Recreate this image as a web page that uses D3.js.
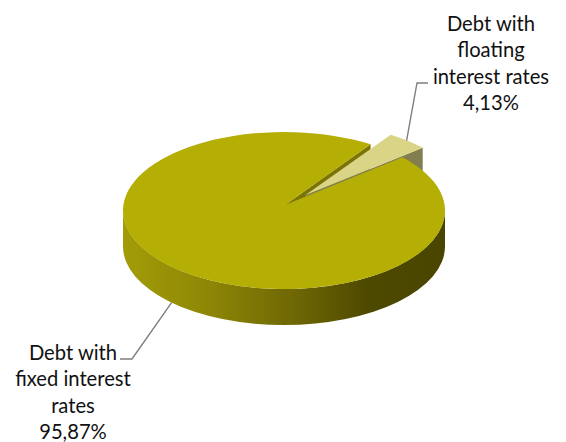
<!DOCTYPE html>
<html>
<head>
<meta charset="utf-8">
<script src="https://cdn.jsdelivr.net/npm/d3@7"></script>
<style>
  html, body { margin: 0; padding: 0; background: #fff; }
  svg { display: block; }
  text { font-family: Lato, "Open Sans", sans-serif; font-size: 20.2px; fill: #111; }
</style>
</head>
<body>
<div id="chart"></div>
<script>
// Data
const categories = ['Debt with fixed interest rates', 'Debt with floating interest rates'];
const shares = [95.87, 4.13];
const shareLabels = ['95,87%', '4,13%'];
const labelLines = [
    ['Debt with', 'fixed interest', 'rates'],
    ['Debt with', 'floating', 'interest rates']
];

const width = 566, height = 442;

// 3D look of the pie: ellipse, its apex sits a little above the ellipse centre
const cx = 284, cy = 210.5, rx = 161, ry = 78.5, depth = 36;
const apex = {x: 285, y: 205};
const explodeX = 0.195, explodeY = 0.16;

const colors = {
    top: '#b5ae04',
    notchWall: '#7b7404',
    wedgeTop: '#dad486',
    wedgeWall: '#827e50',
    leader: '#7f7f7f'
};

const svg = d3.select('#chart').append('svg')
    .attr('width', width)
    .attr('height', height);

// Side wall shading runs from lit left to dark right
const grad = svg.append('defs').append('linearGradient')
    .attr('id', 'wall')
    .attr('gradientUnits', 'userSpaceOnUse')
    .attr('x1', cx - rx).attr('x2', cx + rx)
    .attr('y1', 0).attr('y2', 0);
[[0, '#a39c08'], [0.25, '#8f8806'], [0.55, '#6c6504'], [0.75, '#4f4a01'], [1, '#494500']]
    .forEach(s => grad.append('stop').attr('offset', s[0]).attr('stop-color', s[1]));

const pie = d3.pie().sort(null)
    .startAngle(47.4 * Math.PI / 180)
    .endAngle((47.4 + 360) * Math.PI / 180);
const arcs = pie(shares);
const fixedArc = arcs[0], floatArc = arcs[1];

// pie angle (clockwise from 12 o'clock) to screen position on the rim
const rim = (a, dx = 0, dy = 0) => ({
    x: cx + rx * Math.sin(a) + dx,
    y: cy - ry * Math.cos(a) + dy
});

function slicePath(d, dx = 0, dy = 0) {
    const s = rim(d.startAngle, dx, dy), e = rim(d.endAngle, dx, dy);
    const large = d.endAngle - d.startAngle > Math.PI ? 1 : 0;
    return `M${apex.x + dx},${apex.y + dy}L${s.x},${s.y}` +
        `A${rx},${ry} 0 ${large} 1 ${e.x},${e.y}Z`;
}

const quad = pts => 'M' + pts.map(p => `${p.x},${p.y}`).join('L') + 'Z';

// Offset of the pulled-out slice, along its bisector
const mid = (floatArc.startAngle + floatArc.endAngle) / 2;
const off = {
    x: rx * Math.sin(mid) * explodeX,
    y: -ry * Math.cos(mid) * explodeY
};

// Outer wall of the big slice (front half only is visible)
const left = rim(-Math.PI / 2 + 2 * Math.PI), right = rim(Math.PI / 2);
svg.append('path')
    .attr('d', `M${right.x},${right.y}A${rx},${ry} 0 0 1 ${left.x},${left.y}` +
        `L${left.x},${left.y + depth}A${rx},${ry} 0 0 0 ${right.x},${right.y + depth}Z`)
    .attr('fill', 'url(#wall)');

// Cut wall showing inside the notch
const notchEnd = rim(fixedArc.endAngle);
svg.append('path')
    .attr('d', quad([
        apex, notchEnd,
        {x: notchEnd.x, y: notchEnd.y + depth},
        {x: apex.x, y: apex.y + depth}
    ]))
    .attr('fill', colors.notchWall);

// Pulled-out slice: cut wall, then top
const wedgeEnd = rim(floatArc.endAngle, off.x, off.y);
const wedgeApex = {x: apex.x + off.x, y: apex.y + off.y};
svg.append('path')
    .attr('d', quad([
        wedgeApex, wedgeEnd,
        {x: wedgeEnd.x, y: wedgeEnd.y + depth},
        {x: wedgeApex.x, y: wedgeApex.y + depth}
    ]))
    .attr('fill', colors.wedgeWall);
svg.append('path')
    .attr('d', slicePath(floatArc, off.x, off.y))
    .attr('fill', colors.wedgeTop);

// Top of the big slice
svg.append('path')
    .attr('d', slicePath(fixedArc))
    .attr('fill', colors.top);

// Leader lines
const floatAnchor = rim(mid, off.x - 1, off.y);
const fixedAnchor = rim((fixedArc.startAngle + fixedArc.endAngle) / 2, -9, depth - 4);
const leaders = [
    [fixedAnchor, {x: 132, y: 359}, {x: 120, y: 359}],
    [floatAnchor, {x: 417, y: 83}, {x: 428, y: 83}]
];
svg.selectAll('path.leader')
    .data(leaders)
    .enter()
    .append('path')
    .attr('class', 'leader')
    .attr('d', d3.line().x(d => d.x).y(d => d.y))
    .attr('fill', 'none')
    .attr('stroke', colors.leader)
    .attr('stroke-width', 1.4);

// Labels
const labelPos = [
    {x: 73, y: 360},
    {x: 491, y: 31}
];
const lineGap = 26.4;
labelLines.forEach((lines, i) => {
    const t = svg.append('text')
        .attr('text-anchor', 'middle')
        .attr('aria-label', categories[i]);
    lines.concat(shareLabels[i]).forEach((line, j) => {
        t.append('tspan')
            .attr('x', labelPos[i].x)
            .attr('y', labelPos[i].y + j * lineGap)
            .text(line);
    });
});
</script>
</body>
</html>
